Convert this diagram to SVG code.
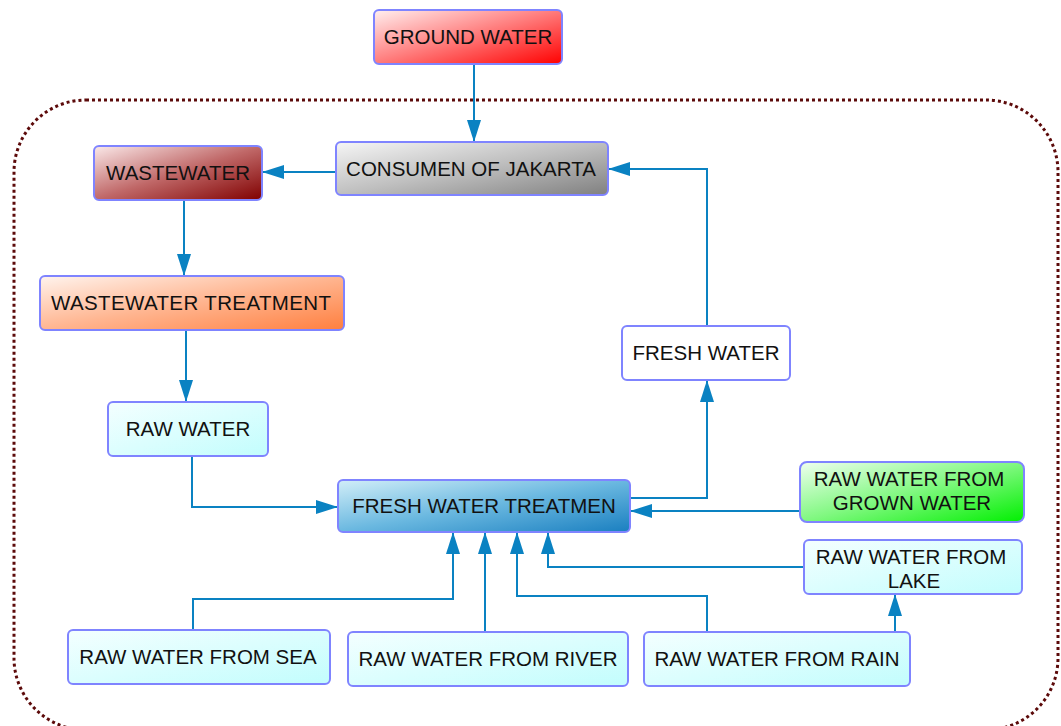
<svg xmlns="http://www.w3.org/2000/svg" width="1061" height="726" viewBox="0 0 1061 726">
<style>
.n{stroke:#7f84ff;stroke-width:2}
.t{font-family:"Liberation Sans",Arial,sans-serif;font-size:20.5px;fill:#111;text-anchor:middle}
.c{fill:none;stroke:#0a82c2;stroke-width:2}
</style>
<defs>
<marker id="a" viewBox="0 0 22 14" refX="22" refY="7" markerWidth="22" markerHeight="14" markerUnits="userSpaceOnUse" orient="auto"><path d="M0,0 L22,7 L0,14 Z" fill="#0a82c2"/></marker>
<linearGradient id="gRed" x1="0" y1="0" x2="1" y2="1"><stop offset="0" stop-color="#fff0f0"/><stop offset="0.5" stop-color="#ff7a7a"/><stop offset="1" stop-color="#ff0000"/></linearGradient>
<linearGradient id="gGray" x1="0" y1="0" x2="1" y2="1"><stop offset="0" stop-color="#f6f6f6"/><stop offset="0.5" stop-color="#bfbfbf"/><stop offset="1" stop-color="#808080"/></linearGradient>
<linearGradient id="gMaroon" x1="0" y1="0" x2="1" y2="1"><stop offset="0" stop-color="#fbeaea"/><stop offset="0.5" stop-color="#c06868"/><stop offset="1" stop-color="#800000"/></linearGradient>
<linearGradient id="gOrange" x1="0" y1="0" x2="1" y2="1"><stop offset="0" stop-color="#fff4ee"/><stop offset="0.5" stop-color="#ffb590"/><stop offset="1" stop-color="#ff7f3f"/></linearGradient>
<linearGradient id="gCyan" x1="0" y1="0" x2="1" y2="1"><stop offset="0" stop-color="#f4ffff"/><stop offset="1" stop-color="#c2fdfd"/></linearGradient>
<linearGradient id="gBlue" x1="0" y1="0" x2="1" y2="1"><stop offset="0" stop-color="#d2eef8"/><stop offset="0.5" stop-color="#6ab8e0"/><stop offset="1" stop-color="#1a7fc0"/></linearGradient>
<linearGradient id="gGreen" x1="0" y1="0" x2="1" y2="1"><stop offset="0" stop-color="#f0fff0"/><stop offset="0.5" stop-color="#80f880"/><stop offset="1" stop-color="#00f000"/></linearGradient>
</defs>
<rect x="14" y="100" width="1044" height="630" rx="72" ry="72" fill="none" stroke="#5c0a0a" stroke-width="3" stroke-dasharray="3,3"/>
<g id="connectors">
<path class="c" d="M474,64 V142" marker-end="url(#a)"/>
<path class="c" d="M336,172 H262" marker-end="url(#a)"/>
<path class="c" d="M184,200 V276" marker-end="url(#a)"/>
<path class="c" d="M186,330 V402" marker-end="url(#a)"/>
<path class="c" d="M192,456 V507 H338" marker-end="url(#a)"/>
<path class="c" d="M630,498 H707 V380" marker-end="url(#a)"/>
<path class="c" d="M707,326 V169 H608" marker-end="url(#a)"/>
<path class="c" d="M800,511 H630" marker-end="url(#a)"/>
<path class="c" d="M804,567 H548 V532" marker-end="url(#a)"/>
<path class="c" d="M193,630 V599 H453 V532" marker-end="url(#a)"/>
<path class="c" d="M485,632 V532" marker-end="url(#a)"/>
<path class="c" d="M707,632 V596 H517 V532" marker-end="url(#a)"/>
<path class="c" d="M895,632 V594" marker-end="url(#a)"/>
</g>
<g id="ground"><rect class="n" x="374" y="10" width="188" height="54" rx="5" fill="url(#gRed)"/><text class="t" x="468" y="44">GROUND WATER</text></g>
<g id="consumen"><rect class="n" x="336" y="142" width="272" height="53" rx="5" fill="url(#gGray)"/><text class="t" x="471" y="176">CONSUMEN OF JAKARTA</text></g>
<g id="wastewater"><rect class="n" x="94" y="146" width="168" height="54" rx="5" fill="url(#gMaroon)"/><text class="t" x="178" y="180">WASTEWATER</text></g>
<g id="wwt"><rect class="n" x="40" y="276" width="304" height="54" rx="5" fill="url(#gOrange)"/><text class="t" x="191" y="310" textLength="280" lengthAdjust="spacing">WASTEWATER TREATMENT</text></g>
<g id="raw"><rect class="n" x="108" y="402" width="160" height="54" rx="5" fill="url(#gCyan)"/><text class="t" x="188" y="436">RAW WATER</text></g>
<g id="fresh"><rect class="n" x="622" y="326" width="168" height="54" rx="5" fill="#ffffff"/><text class="t" x="706" y="360">FRESH WATER</text></g>
<g id="fwt"><rect class="n" x="338" y="480" width="292" height="52" rx="5" fill="url(#gBlue)"/><text class="t" x="484" y="513">FRESH WATER TREATMEN</text></g>
<g id="grown"><rect class="n" x="800" y="462" width="224" height="60" rx="7" fill="url(#gGreen)"/><text class="t" x="909" y="486">RAW WATER FROM</text><text class="t" x="912" y="510">GROWN WATER</text></g>
<g id="lake"><rect class="n" x="804" y="540" width="218" height="54" rx="5" fill="url(#gCyan)"/><text class="t" x="911" y="564">RAW WATER FROM</text><text class="t" x="914" y="588">LAKE</text></g>
<g id="sea"><rect class="n" x="68" y="630" width="262" height="54" rx="5" fill="url(#gCyan)"/><text class="t" x="198" y="664">RAW WATER FROM SEA</text></g>
<g id="river"><rect class="n" x="348" y="632" width="280" height="54" rx="5" fill="url(#gCyan)"/><text class="t" x="488" y="666">RAW WATER FROM RIVER</text></g>
<g id="rain"><rect class="n" x="644" y="632" width="266" height="54" rx="5" fill="url(#gCyan)"/><text class="t" x="777" y="666">RAW WATER FROM RAIN</text></g>
</svg>
